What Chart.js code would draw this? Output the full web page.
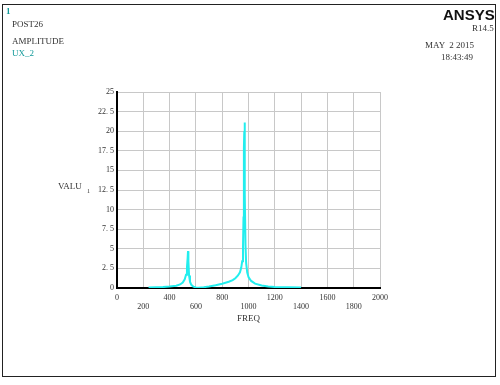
<!DOCTYPE html>
<html>
<head>
<meta charset="utf-8">
<script src="https://cdn.jsdelivr.net/npm/chart.js@4"></script>
<style>
  body { margin: 0; background: #fff; }
  #wrap { position: relative; width: 500px; height: 385px; }
  #frame { position: absolute; left: 2px; top: 4px; width: 494px; height: 373px; border: 1px solid #222; box-sizing: border-box; }
  canvas { position: absolute; left: 0; top: 0; }
  .t { position: absolute; font-family: "Liberation Serif", serif; font-size: 9px; color: #333; white-space: pre; line-height: 10px; }
</style>
</head>
<body>
<div id="wrap">
  <div id="frame"></div>
  <canvas id="c" width="500" height="385"></canvas>
  <div class="t" style="left:6px;top:6px;color:#119999;font-weight:bold;">1</div>
  <div class="t" style="left:12px;top:19px;">POST26</div>
  <div class="t" style="left:12px;top:36px;">AMPLITUDE</div>
  <div class="t" style="left:12px;top:48px;color:#119999;">UX_2</div>
  <div class="t" style="left:443px;top:6px;font-family:'Liberation Sans',sans-serif;font-weight:bold;font-size:15px;line-height:17px;color:#111;">ANSYS</div>
  <div class="t" style="left:472px;top:23px;">R14.5</div>
  <div class="t" style="left:425px;top:40px;">MAY  2 2015</div>
  <div class="t" style="left:441px;top:52px;">18:43:49</div>
  <div class="t" style="left:58px;top:181px;">VALU</div>
  <div class="t" style="left:87px;top:186px;font-size:6px;">1</div>
  <div class="t" style="left:237px;top:313px;">FREQ</div>
</div>
<script>
// frequency response
const freq = [240, 300, 350, 400, 450, 480, 500, 515, 525, 532, 537, 540, 543, 548, 555, 565, 580, 600, 620,
  660, 700, 750, 800, 850, 880, 900, 920, 935, 945, 952, 958, 962, 965, 968, 970, 973, 977, 982, 990,
  1000, 1020, 1050, 1100, 1150, 1200, 1300, 1400];
const ampl = [0.05, 0.08, 0.12, 0.18, 0.28, 0.45, 0.7, 1.1, 1.7, 2.6, 3.8, 4.7, 3.4, 1.6, 0.8, 0.4, 0.18, 0.07, 0.02,
  0.1, 0.2, 0.35, 0.55, 0.8, 1.0, 1.25, 1.6, 2.0, 2.6, 3.4, 5.0, 9.0, 17.8, 20.0, 21.1, 12.0, 5.5, 3.2, 2.0,
  1.4, 0.9, 0.55, 0.32, 0.2, 0.14, 0.08, 0.05];

const xTicks = [0, 200, 400, 600, 800, 1000, 1200, 1400, 1600, 1800, 2000];
const yTicks = ['0', '2. 5', '5', '7. 5', '10', '12. 5', '15', '17. 5', '20', '22. 5', '25'];

const points = freq.map((f, i) => ({ x: f, y: ampl[i] }));
const tickFont = { family: 'Liberation Serif', size: 8 };

new Chart(document.getElementById('c'), {
  type: 'scatter',
  data: {
    datasets: [{
      data: points,
      showLine: true,
      borderColor: '#22eeee',
      borderWidth: 2,
      pointRadius: 0,
      tension: 0
    }]
  },
  options: {
    responsive: false,
    animation: false,
    layout: { padding: { left: 0, top: 92, right: 120, bottom: 0 } },
    plugins: { legend: { display: false }, tooltip: { enabled: false } },
    scales: {
      x: {
        type: 'linear', min: 0, max: 2000,
        afterFit: s => { s.height = 97; },
        afterBuildTicks: s => { s.ticks = xTicks.map(v => ({ value: v })); },
        ticks: {
          font: tickFont, color: '#333', padding: 5, maxRotation: 0, autoSkip: false,
          callback: (v, i) => i % 2 === 0 ? [String(v), ''] : ['', String(v)]
        },
        grid: { color: '#c8c8c8', lineWidth: 1, drawTicks: false },
        border: { color: '#000', width: 2 }
      },
      y: {
        min: 0, max: 25,
        afterFit: s => { s.width = 117; },
        afterBuildTicks: s => { s.ticks = yTicks.map((t, i) => ({ value: i * 2.5 })); },
        ticks: {
          font: tickFont, color: '#333', padding: 3,
          callback: (v, i) => yTicks[i]
        },
        grid: { color: '#c8c8c8', lineWidth: 1, drawTicks: false },
        border: { color: '#000', width: 2 }
      }
    }
  }
});
</script>
</body>
</html>
